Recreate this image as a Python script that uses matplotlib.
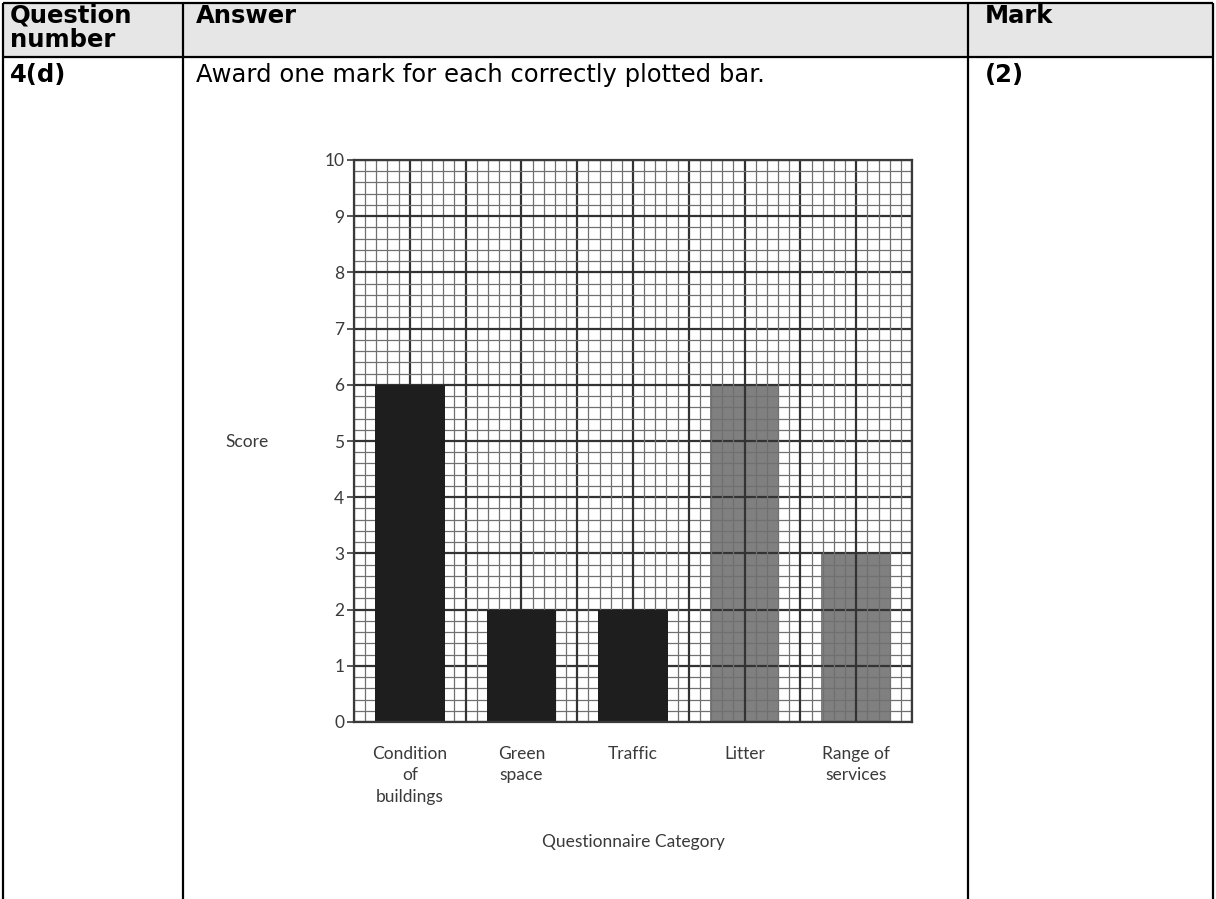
"""Mark scheme row 4(d): bar chart of questionnaire scores on graph paper."""
import numpy as np
import matplotlib
matplotlib.use("Agg")
import matplotlib.pyplot as plt

# data
categories = ["Condition\nof\nbuildings", "Green\nspace", "Traffic", "Litter", "Range of\nservices"]
scores = [6, 2, 2, 6, 3]
shaded = [False, False, False, True, True]   # last two bars are pencil-shaded
y_ticks = list(range(0, 11))

header_cells = ["Question\nnumber", "Answer", "Mark"]
row_cells = ["4(d)", "Award one mark for each correctly plotted bar.", "(2)"]

W, H = 1216, 899
fig = plt.figure(figsize=(W / 100, H / 100), dpi=100)

# table drawn in pixel coordinates
bg = fig.add_axes([0, 0, 1, 1])
bg.set_xlim(0, W)
bg.set_ylim(H, 0)
bg.axis("off")

col_x = [3, 183, 968, 1213]
top, head_bot = 3, 57
bg.fill_between([col_x[0], col_x[-1]], top, head_bot, color="#e6e6e6", zorder=0)
for x in col_x:
    bg.plot([x, x], [top, H + 5], color="black", lw=1.6, solid_capstyle="butt")
for y in (top, head_bot):
    bg.plot([col_x[0], col_x[-1]], [y, y], color="black", lw=1.6, solid_capstyle="butt")

tx = [10, 196, 985]
for i in range(3):
    bg.text(tx[i], 4, header_cells[i], ha="left", va="top", fontsize=17.5,
            fontweight="bold", family="DejaVu Sans", linespacing=1.02)
    bg.text(tx[i], 75, row_cells[i], ha="left", va="center", fontsize=17.5,
            fontweight="bold" if i != 1 else "normal", family="DejaVu Sans")

# chart
ax = fig.add_axes([354 / W, (H - 722) / H, 558 / W, 562 / H])
n = len(categories)
centers = np.arange(n) * 2 + 1
ax.set_xlim(0, 2 * n)
ax.set_ylim(0, 10)

# graph paper: 2 mm squares, bold line every cm
for v in np.arange(0, 10.001, 0.2):
    k = int(round(v * 10))
    if k % 10 == 0:
        lw, c = 1.6, "#333333"
    else:
        lw, c = 0.9, "#707070"
    ax.axhline(v, color=c, lw=lw, zorder=2)
    ax.axvline(v, color=c, lw=lw, zorder=2)

for cx, s, sh in zip(centers, scores, shaded):
    if sh:
        ax.bar(cx, s, width=1.25, color="#6a6a6a", alpha=0.85, zorder=1)
    else:
        ax.bar(cx, s, width=1.25, color="#1e1e1e", zorder=3)

for sp in ax.spines.values():
    sp.set_linewidth(1.6)
    sp.set_color("#3a3a3a")
    sp.set_zorder(4)

ax.set_yticks(y_ticks)
ax.set_xticks(centers)
ax.set_xticklabels(categories, family="Lato", fontsize=12.5, color="#3a3a3a",
                   linespacing=1.45, va="top")
ax.set_yticklabels([str(t) for t in y_ticks], family="Lato", fontsize=12.5, color="#3a3a3a")
ax.tick_params(axis="x", length=0, pad=17)
ax.tick_params(axis="y", direction="out", length=5, width=1.2, color="#3a3a3a", pad=2)

bg.text(247, 442, "Score", ha="center", va="center", family="Lato",
        fontsize=12.5, color="#3a3a3a")
bg.text(633, 842, "Questionnaire Category", ha="center", va="center",
        family="Lato", fontsize=12.5, color="#3a3a3a")

fig.savefig("out.png", dpi=100)
